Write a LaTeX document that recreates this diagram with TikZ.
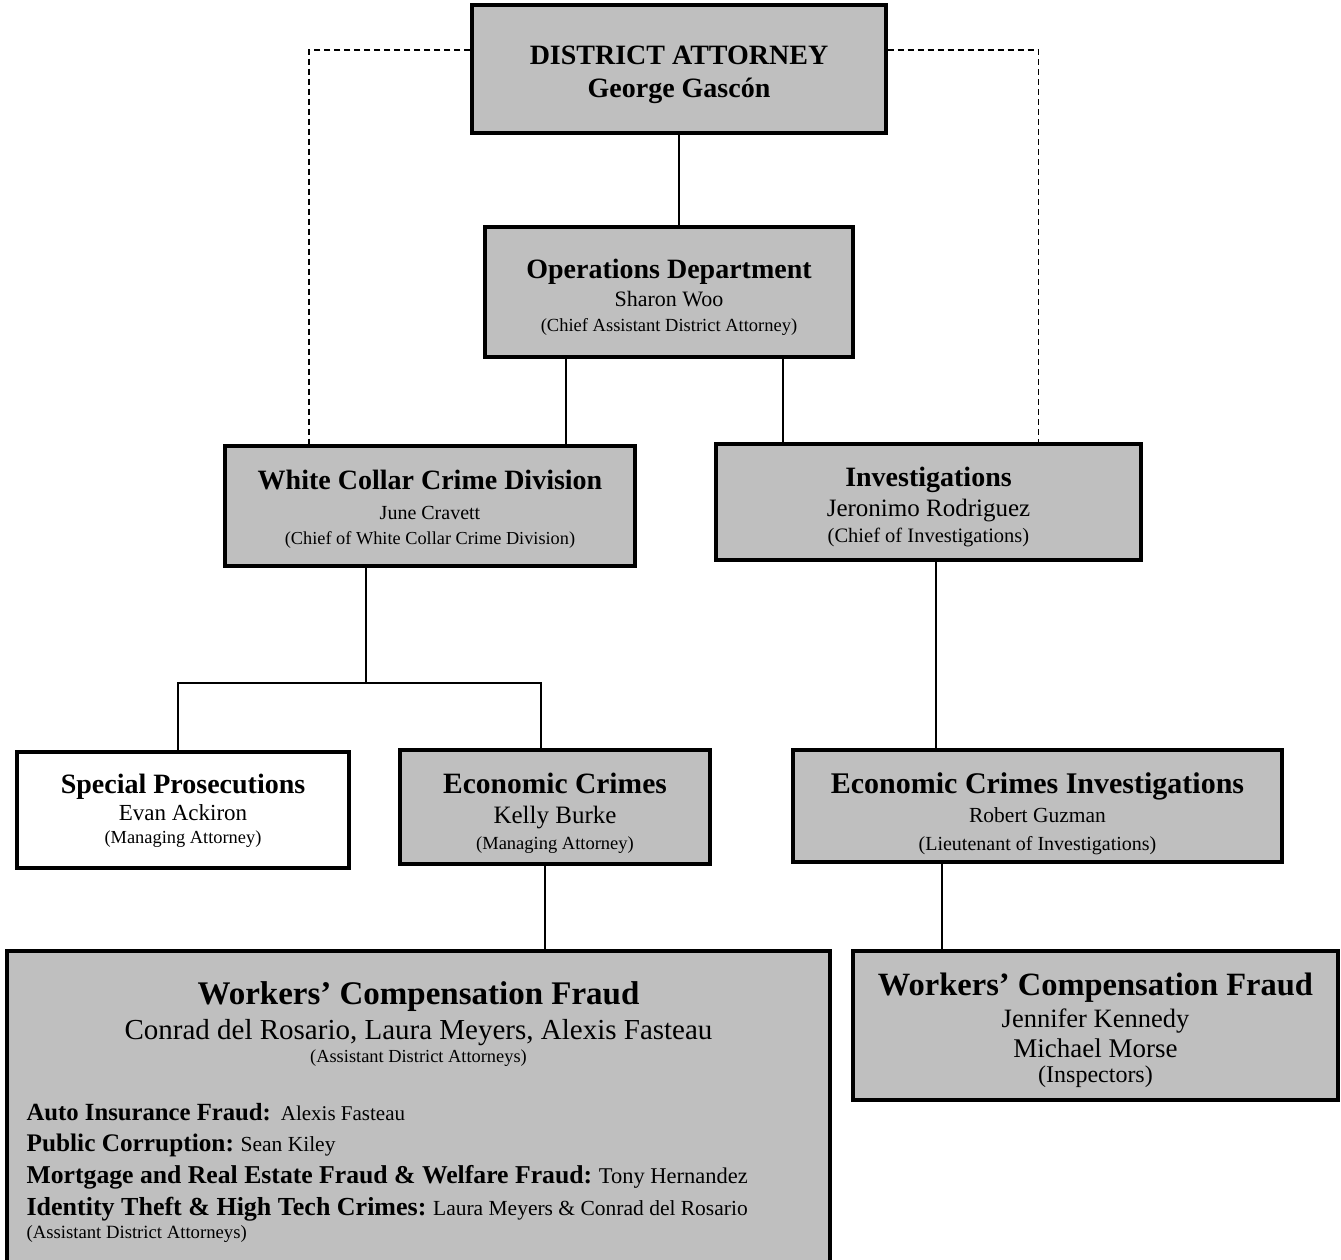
\documentclass[tikz,border=0pt]{standalone}
\usepackage{fontspec}
\setmainfont{Liberation Serif}
\usetikzlibrary{positioning}

\newcommand{\fsz}[2]{{\fontsize{#1}{#1}\selectfont #2}}
\newcommand{\lift}[1]{\rule{0pt}{#1pt}}

\begin{document}
\begin{tikzpicture}[x=1pt, y=-1pt,
    unit/.style={draw, line width=3.2pt, fill=black!25, inner sep=0pt, align=center, font=\fontsize{20}{30}\selectfont},
    plain/.style={unit, fill=white},
    link/.style={line width=1.2pt},
    dashlink/.style={line width=1.2pt, dash pattern=on 6pt off 4pt}]
        \useasboundingbox (0,0) rectangle (1341,1260);
        \clip (0,0) rectangle (1341,1260);

        % Nodes
        \node[unit, minimum width=414, minimum height=128] (da) at (679,69)
            {\lift{30.5}\fsz{28}{\bfseries DISTRICT ATTORNEY}\\[3pt] \fsz{28}{\bfseries George Gascón}};
        \node[unit, minimum width=368, minimum height=130] (ops) at (669,292)
            {\lift{29}\fsz{28}{\bfseries Operations Department}\\[-2pt] \fsz{22}{Sharon Woo}\\[-5pt] \fsz{18.5}{(Chief Assistant District Attorney)}};
        \node[unit, minimum width=410, minimum height=120] (wcc) at (430,506)
            {\lift{25}\fsz{28}{\bfseries White Collar Crime Division}\\[0pt] \fsz{20}{June Cravett}\\[-5pt] \fsz{18.3}{(Chief of White Collar Crime Division)}};
        \node[unit, minimum width=425, minimum height=116] (inv) at (928.5,502)
            {\lift{28.5}\fsz{28}{\bfseries Investigations}\\[0pt] \fsz{25}{Jeronimo Rodriguez}\\[-4pt] \fsz{20.5}{(Chief of Investigations)}};
        \node[plain, minimum width=332, minimum height=116] (sp) at (183,810)
            {\lift{21}\fsz{28}{\bfseries Special Prosecutions}\\[-3pt] \fsz{23}{Evan Ackiron}\\[-7pt] \fsz{18.4}{(Managing Attorney)}};
        \node[unit, minimum width=310, minimum height=114] (ec) at (555,807)
            {\lift{33.5}\fsz{29.5}{\bfseries Economic Crimes}\\[0pt] \fsz{25}{Kelly Burke}\\[-4pt] \fsz{18.5}{(Managing Attorney)}};
        \node[unit, minimum width=489, minimum height=112] (eci) at (1037.5,806)
            {\lift{36}\fsz{30}{\bfseries Economic Crimes Investigations}\\[-1pt] \fsz{21.5}{Robert Guzman}\\[-2pt] \fsz{20}{(Lieutenant of Investigations)}};
        \node[unit, minimum width=823, minimum height=320] (wcfa) at (418.5,1111) {};
        \node[anchor=north, align=center, inner sep=0pt, font=\fontsize{20}{30}\selectfont] (wcfahead) at ([yshift=-32]wcfa.north)
            {\fsz{33}{\bfseries Workers’ Compensation Fraud}\\[5pt] \fsz{29}{Conrad del Rosario, Laura Meyers, Alexis Fasteau}\\[-7pt] \fsz{18.4}{(Assistant District Attorneys)}};
        \node[anchor=north west, align=left, inner sep=0pt, font=\fontsize{20}{31}\selectfont] (wcfalist) at ([xshift=21, yshift=-154]wcfa.north west)
            {\fsz{24.7}{\bfseries Auto Insurance Fraud:}\hspace{10pt}\fsz{21}{Alexis Fasteau}\\
             \fsz{25.3}{\bfseries Public Corruption:} \fsz{21.5}{Sean Kiley}\\[1pt]
             \fsz{25.7}{\bfseries Mortgage and Real Estate Fraud \& Welfare Fraud:} \fsz{22.5}{Tony Hernandez}\\[1pt]
             \fsz{26}{\bfseries Identity Theft \& High Tech Crimes:} \fsz{21.5}{Laura Meyers \& Conrad del Rosario}\\[-8pt]
             \fsz{18.7}{(Assistant District Attorneys)}};
        \node[unit, minimum width=485, minimum height=149] (wcfb) at (1095.5,1025.5)
            {\lift{32}\fsz{32.5}{\bfseries Workers’ Compensation Fraud}\\[2pt] \fsz{26.5}{Jennifer Kennedy}\\ \fsz{27}{Michael Morse}\\[-5pt] \fsz{24}{(Inspectors)}};

        % Connector ends
        \coordinate (dal) at ([yshift=19]da.west);
        \coordinate (dar) at ([yshift=19]da.east);
        \coordinate (wccd) at ([xshift=-121]wcc.north);
        \coordinate (invd) at ([xshift=110]inv.north);
        \coordinate (opsl) at ([xshift=-103]ops.south);
        \coordinate (opsr) at ([xshift=114]ops.south);
        \coordinate (wccb) at ([xshift=-64]wcc.south);
        \coordinate (fork) at (366,683);
        \coordinate (spt) at ([xshift=-5]sp.north);
        \coordinate (ect) at ([xshift=-14]ec.north);
        \coordinate (invb) at ([xshift=7.5]inv.south);
        \coordinate (ecb) at ([xshift=-10]ec.south);
        \coordinate (ecib) at ([xshift=-95.5]eci.south);

        % Edges
        \draw[link] (da.south) -- (da.south |- ops.north);
        \draw[dashlink] (dal) -| (wccd);
        \draw[dashlink] (dar) -| (invd);
        \draw[link] (opsl) -- (opsl |- wcc.north);
        \draw[link] (opsr) -- (opsr |- inv.north);
        \draw[link] (wccb) -- (fork);
        \draw[link] (spt) |- (fork) -| (ect);
        \draw[link] (invb) -- (invb |- eci.north);
        \draw[link] (ecb) -- (ecb |- wcfa.north);
        \draw[link] (ecib) -- (ecib |- wcfb.north);
    \end{tikzpicture}
\end{document}
